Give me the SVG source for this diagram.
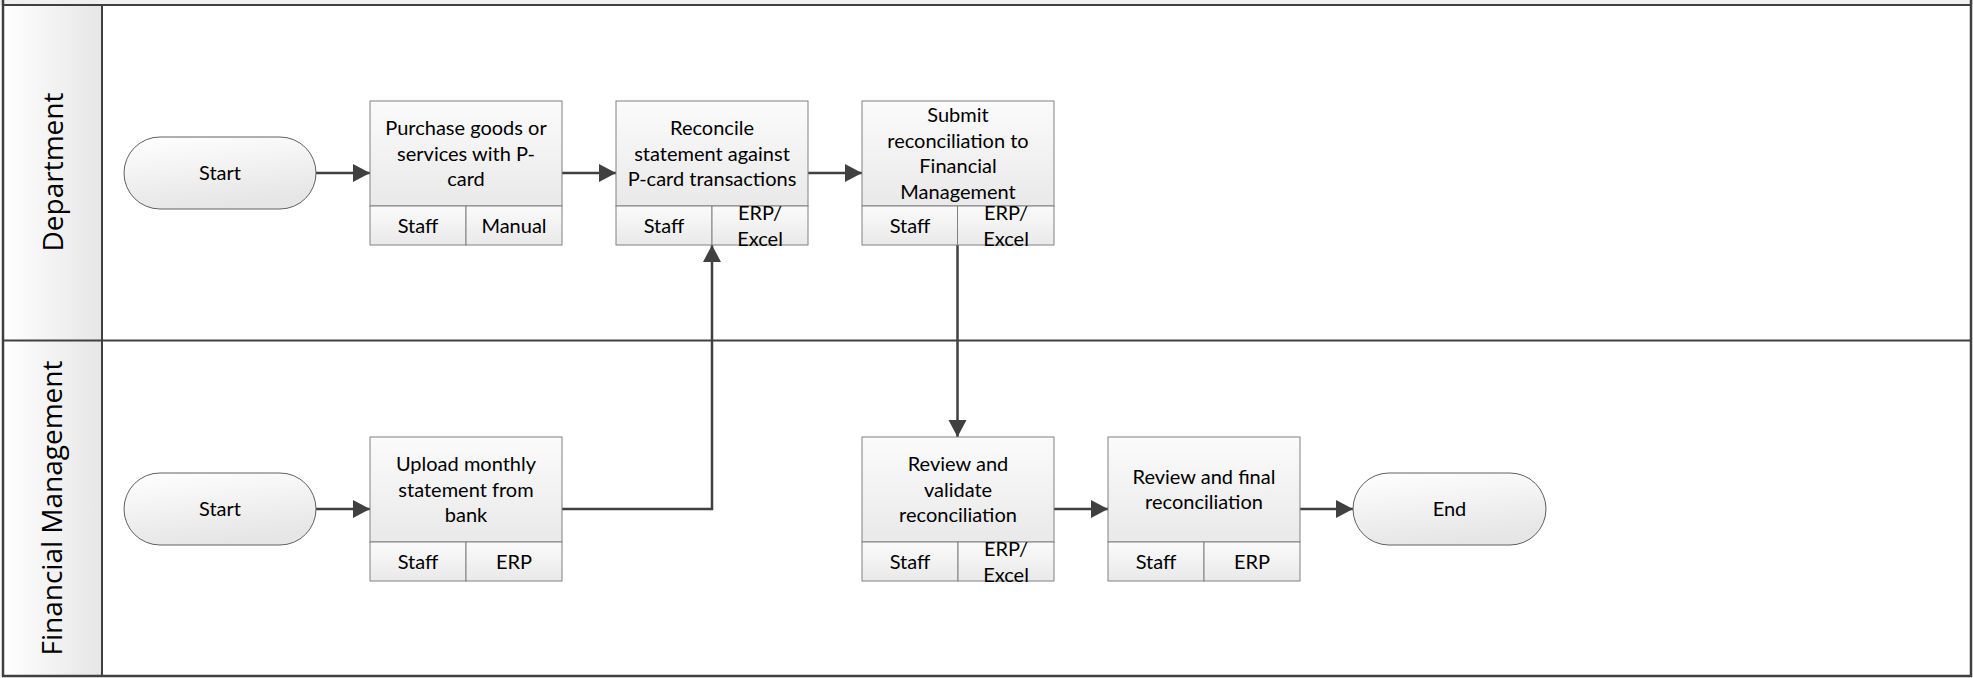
<svg xmlns="http://www.w3.org/2000/svg" width="1973" height="678" viewBox="0 0 1973 678">
<defs>
<linearGradient id="hdr" x1="0" y1="0" x2="1" y2="0"><stop offset="0" stop-color="#ffffff"/><stop offset="1" stop-color="#e6e6e6"/></linearGradient>
<linearGradient id="box" x1="0" y1="0" x2="0" y2="1"><stop offset="0" stop-color="#fbfbfb"/><stop offset="1" stop-color="#e9e9e9"/></linearGradient>
<linearGradient id="term" x1="0" y1="0" x2="0.3" y2="1"><stop offset="0" stop-color="#ffffff"/><stop offset="1" stop-color="#e6e6e6"/></linearGradient>
<marker id="arr" markerUnits="userSpaceOnUse" markerWidth="19" markerHeight="19" refX="17" refY="9" orient="auto"><path d="M0,0 L17,9 L0,18 Z" fill="#404040"/></marker>
<style>
.frame{fill:none;stroke:#404040;stroke-width:2.5}
.ln{stroke:#404040;stroke-width:2;fill:none}
.lane{font-family:"Open Sans","DejaVu Sans",sans-serif;font-size:28px;fill:#000;text-anchor:middle}
.bx{fill:url(#box);stroke:#808080;stroke-width:1}
.tm{fill:url(#term);stroke:#606060;stroke-width:1}
.t{font-family:Lato,"Liberation Sans",sans-serif;font-size:20px;fill:#000;text-anchor:middle}
.c{stroke:#404040;stroke-width:2.5;fill:none;marker-end:url(#arr)}
</style>
</defs>
<rect x="0" y="0" width="1973" height="5" fill="#f0f0f0"/>
<rect x="3" y="5" width="99" height="671" fill="url(#hdr)"/>
<g id="lanes">
<rect class="frame" x="3" y="-3" width="1968" height="679"/>
<line class="ln" x1="3" y1="5" x2="1971" y2="5"/>
<line class="ln" x1="3" y1="340.5" x2="1971" y2="340.5"/>
<line class="ln" x1="102" y1="5" x2="102" y2="676"/>
<text class="lane" transform="translate(63,172) rotate(-90)">Department</text>
<text class="lane" transform="translate(62,508) rotate(-90)">Financial Management</text>
</g>
<g id="connectors">
<line class="c" x1="316" y1="173" x2="370" y2="173"/>
<line class="c" x1="562" y1="173" x2="616" y2="173"/>
<line class="c" x1="808" y1="173" x2="862" y2="173"/>
<path class="c" d="M562,509 H712 V245"/>
<path class="c" d="M957.5,245 V437"/>
<line class="c" x1="316" y1="509" x2="370" y2="509"/>
<line class="c" x1="1054" y1="509" x2="1108" y2="509"/>
<line class="c" x1="1300" y1="509" x2="1353" y2="509"/>
</g>
<g id="start1">
<rect class="tm" x="124" y="137" width="192" height="72" rx="36" ry="36"/>
<text class="t" x="220" y="180">Start</text>
</g>
<g id="purchase">
<rect class="bx" x="370" y="101" width="192" height="105"/>
<rect class="bx" x="370" y="206" width="96" height="39"/>
<rect class="bx" x="466" y="206" width="96" height="39"/>
<text class="t" x="466" y="135">Purchase goods or</text>
<text class="t" x="466" y="160.5">services with P-</text>
<text class="t" x="466" y="186">card</text>
<text class="t" x="418" y="232.5">Staff</text>
<text class="t" x="514" y="232.5">Manual</text>
</g>
<g id="reconcile">
<rect class="bx" x="616" y="101" width="192" height="105"/>
<rect class="bx" x="616" y="206" width="96" height="39"/>
<rect class="bx" x="712" y="206" width="96" height="39"/>
<text class="t" x="712" y="135">Reconcile</text>
<text class="t" x="712" y="160.5">statement against</text>
<text class="t" x="712" y="186">P-card transactions</text>
<text class="t" x="664" y="232.5">Staff</text>
<text class="t" x="760" y="220">ERP/</text>
<text class="t" x="760" y="245.5">Excel</text>
</g>
<g id="submit">
<rect class="bx" x="862" y="101" width="192" height="105"/>
<rect class="bx" x="862" y="206" width="95.5" height="39"/>
<rect class="bx" x="957.5" y="206" width="96.5" height="39"/>
<text class="t" x="958" y="122">Submit</text>
<text class="t" x="958" y="147.5">reconciliation to</text>
<text class="t" x="958" y="173">Financial</text>
<text class="t" x="958" y="198.5">Management</text>
<text class="t" x="910" y="232.5">Staff</text>
<text class="t" x="1006" y="220">ERP/</text>
<text class="t" x="1006" y="245.5">Excel</text>
</g>
<g id="start2">
<rect class="tm" x="124" y="473" width="192" height="72" rx="36" ry="36"/>
<text class="t" x="220" y="516">Start</text>
</g>
<g id="upload">
<rect class="bx" x="370" y="437" width="192" height="105"/>
<rect class="bx" x="370" y="542" width="96" height="39"/>
<rect class="bx" x="466" y="542" width="96" height="39"/>
<text class="t" x="466" y="471">Upload monthly</text>
<text class="t" x="466" y="496.5">statement from</text>
<text class="t" x="466" y="522">bank</text>
<text class="t" x="418" y="568.5">Staff</text>
<text class="t" x="514" y="568.5">ERP</text>
</g>
<g id="review_validate">
<rect class="bx" x="862" y="437" width="192" height="105"/>
<rect class="bx" x="862" y="542" width="96" height="39"/>
<rect class="bx" x="958" y="542" width="96" height="39"/>
<text class="t" x="958" y="471">Review and</text>
<text class="t" x="958" y="496.5">validate</text>
<text class="t" x="958" y="522">reconciliation</text>
<text class="t" x="910" y="568.5">Staff</text>
<text class="t" x="1006" y="556">ERP/</text>
<text class="t" x="1006" y="581.5">Excel</text>
</g>
<g id="review_final">
<rect class="bx" x="1108" y="437" width="192" height="105"/>
<rect class="bx" x="1108" y="542" width="96" height="39"/>
<rect class="bx" x="1204" y="542" width="96" height="39"/>
<text class="t" x="1204" y="483.5">Review and final</text>
<text class="t" x="1204" y="509">reconciliation</text>
<text class="t" x="1156" y="568.5">Staff</text>
<text class="t" x="1252" y="568.5">ERP</text>
</g>
<g id="end">
<rect class="tm" x="1353" y="473" width="193" height="72" rx="36" ry="36"/>
<text class="t" x="1449.5" y="516">End</text>
</g>
</svg>
